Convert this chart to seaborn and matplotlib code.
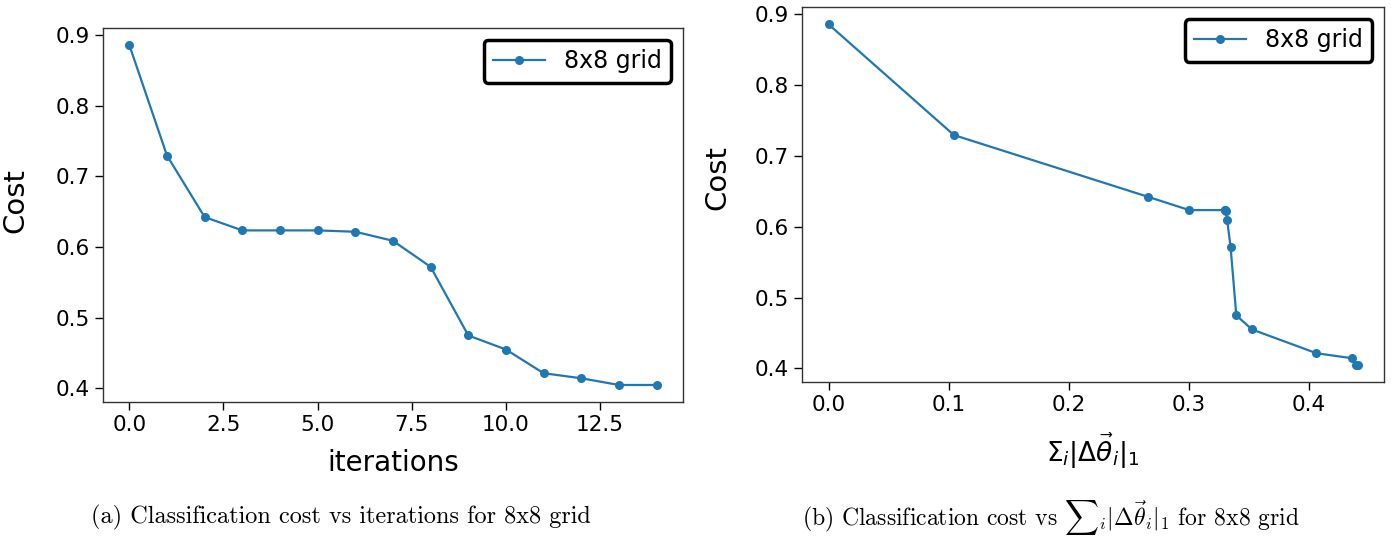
import pandas as pd
import seaborn as sns
import numpy as np
import matplotlib.pyplot as plt

# Data
iterations = list(range(15))
cost = [0.886, 0.7295, 0.6424, 0.6235, 0.6235, 0.6235, 0.6216, 0.6088,
        0.5719, 0.4748, 0.4549, 0.4213, 0.4142, 0.4047, 0.4047]
thetaSum = [0.0, 0.1044, 0.2658, 0.3004, 0.3300, 0.3305, 0.3310, 0.3320,
            0.3348, 0.3396, 0.3526, 0.4063, 0.4360, 0.4390, 0.4406]
seriesName = '8x8 grid'

data = pd.DataFrame({'iterations': iterations, 'thetaSum': thetaSum, 'Cost': cost})

plt.rcParams['mathtext.fontset'] = 'dejavusans'
blue = '#1f77b4'

fig = plt.figure(figsize=(13.91, 5.4), dpi=100)
ax1 = fig.add_axes([0.074, 0.2556, 0.417, 0.6926])
ax2 = fig.add_axes([0.5766, 0.2926, 0.4184, 0.694])

for ax, xcol in [(ax1, 'iterations'), (ax2, 'thetaSum')]:
    sns.lineplot(data=data, x=xcol, y='Cost', ax=ax, marker='o', markersize=6.5,
                 markeredgewidth=0, color=blue, linewidth=1.6, sort=False,
                 estimator=None, label=seriesName)
    ax.tick_params(labelsize=15.5, length=6, width=1)
    ax.set_ylabel('Cost', fontsize=21)
    ax.set_yticks([0.4, 0.5, 0.6, 0.7, 0.8, 0.9])
    for s in ax.spines.values():
        s.set_linewidth(1.0)
        s.set_color('#333333')
    leg = ax.legend(loc='upper right', fontsize=17, fancybox=True,
                    edgecolor='black', framealpha=1, handlelength=2.2)
    leg.get_frame().set_linewidth(2.5)

ax1.yaxis.set_label_coords(-0.126, 0.54)
ax2.yaxis.set_label_coords(-0.121, 0.547)

ax1.set_xlabel('iterations', fontsize=20, labelpad=10)
ax1.set_xticks([0, 2.5, 5, 7.5, 10, 12.5])
ax2.set_xlabel(r'$\Sigma_i|\Delta\vec{\theta}_i|_1$', fontsize=19, labelpad=12)
ax2.set_xticks([0.0, 0.1, 0.2, 0.3, 0.4])

# Captions
fig.text(0.245, 0.041, '(a) Classification cost vs iterations for 8x8 grid',
         ha='center', va='center', fontsize=17.5, family='cmr10')
fig.text(0.7556, 0.041,
         r'(b) Classification cost vs ${\sum}_i|\Delta\vec{\theta}_i|_1$ for 8x8 grid',
         ha='center', va='center', fontsize=17, family='cmr10',
         math_fontfamily='cm')

plt.savefig('out.png', dpi=100)
